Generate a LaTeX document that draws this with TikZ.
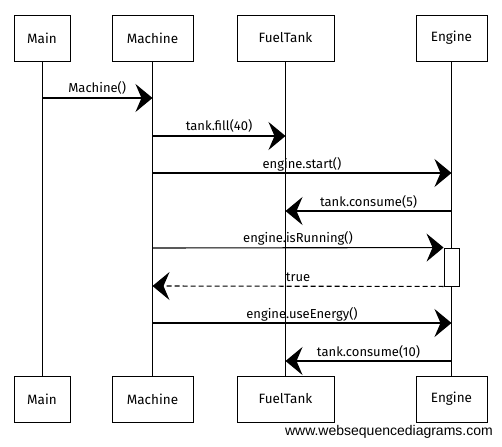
\documentclass[tikz,border=0pt]{standalone}
\usepackage{fontspec}
\setmainfont{Fira Sans}
\newfontfamily\footfont{Liberation Sans}
\usetikzlibrary{arrows.meta}
\begin{document}
\begin{tikzpicture}[x=1pt,y=-1pt,
  actor/.style={draw, line width=0.9pt, minimum height=46pt, inner sep=0pt, font=\fontsize{13.5}{15}\selectfont},
  life/.style={line width=0.8pt},
  msg/.style={line width=1.1pt, -{Stealth[length=17pt,width=28pt,inset=6pt]}},
  ret/.style={msg, dash pattern=on 5pt off 3pt},
  lbl/.style={font=\fontsize{13}{15}\selectfont, inner sep=0pt, anchor=base, yshift=5pt},
  actbox/.style={draw, fill=white, line width=0.9pt, minimum width=15pt, minimum height=38pt, inner sep=0pt}
]
\useasboundingbox (0,0) rectangle (502,446);
% actors top
\node[actor, minimum width=56pt] (mainT) at (42,38) {Main};
\node[actor, minimum width=81pt] (machT) at (152.5,38) {Machine};
\node[actor, minimum width=97pt] (tankT) at (285.5,38) {FuelTank};
\node[actor, minimum width=71pt] (engT) at (451.5,38) {Engine};
% actors bottom
\node[actor, minimum width=56pt] (mainB) at (42,399) {Main};
\node[actor, minimum width=81pt] (machB) at (152.5,399) {Machine};
\node[actor, minimum width=97pt] (tankB) at (285.5,399) {FuelTank};
\node[actor, minimum width=71pt] (engB) at (451.5,399) {Engine};
% lifelines
\draw[life] (mainT) -- (mainB);
\draw[life] (machT) -- (machB);
\draw[life] (tankT) -- (tankB);
\draw[life] (engT) -- (engB);
% activation
\node[actbox] (act) at (451.5,267) {};
% message endpoints
\coordinate (m1a) at (mainT |- 0,98);
\coordinate (m1b) at (machT |- 0,98);
\coordinate (m2a) at (machT |- 0,136);
\coordinate (m2b) at (tankT |- 0,136);
\coordinate (m3a) at (machT |- 0,173);
\coordinate (m3b) at (engT |- 0,173);
\coordinate (m4a) at (engT |- 0,211);
\coordinate (m4b) at (tankT |- 0,211);
\coordinate (m5a) at (machT |- 0,248);
\coordinate (m5b) at (act.north west);
\coordinate (m6a) at (act.south west);
\coordinate (m6b) at (machT |- 0,286);
\coordinate (m7a) at (machT |- 0,323);
\coordinate (m7b) at (engT |- 0,323);
\coordinate (m8a) at (engT |- 0,361);
\coordinate (m8b) at (tankT |- 0,361);
% messages
\draw[msg] (m1a) -- node[lbl]{Machine()} (m1b);
\draw[msg] (m2a) -- node[lbl]{tank.fill(40)} (m2b);
\draw[msg] (m3a) -- node[lbl]{engine.start()} (m3b);
\draw[msg] (m4a) -- node[lbl]{tank.consume(5)} (m4b);
\draw[msg] (m5a) -- node[lbl]{engine.isRunning()} (m5b);
\draw[ret] (m6a) -- node[lbl]{true} (m6b);
\draw[msg] (m7a) -- node[lbl]{engine.useEnergy()} (m7b);
\draw[msg] (m8a) -- node[lbl]{tank.consume(10)} (m8b);
% footer
\node[anchor=base east, inner sep=0pt, font=\footfont\fontsize{14}{16}\selectfont] (foot) at (493,435) {www.websequencediagrams.com};
\end{tikzpicture}
\end{document}
